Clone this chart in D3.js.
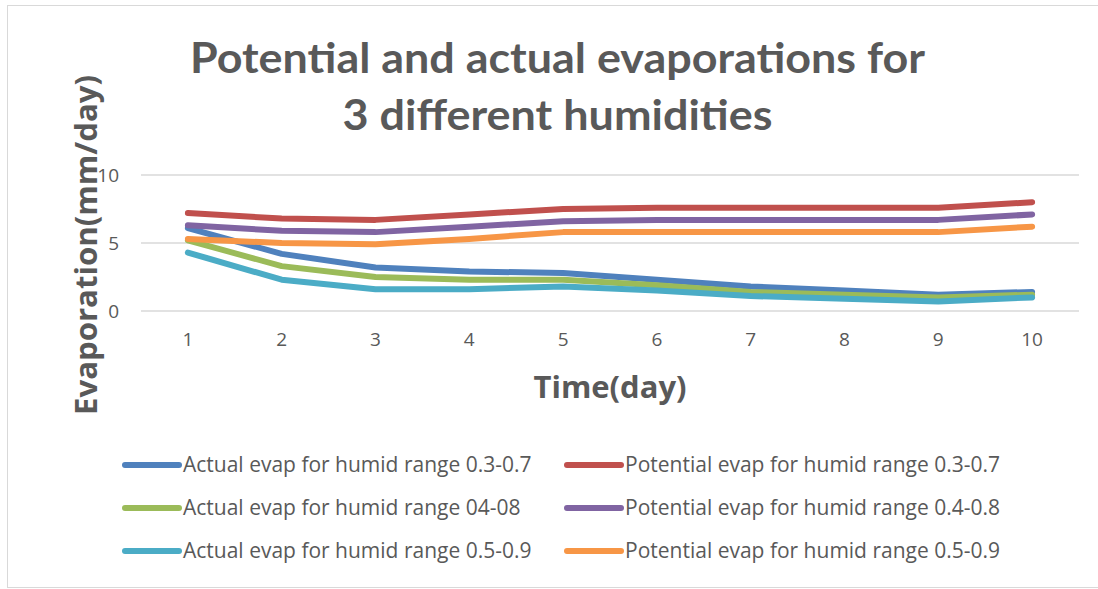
<!DOCTYPE html>
<html>
<head>
<meta charset="utf-8">
<script src="https://cdn.jsdelivr.net/npm/d3@7"></script>
<style>
  html, body { margin: 0; padding: 0; background: #fff; }
  svg { display: block; }
</style>
</head>
<body>
<svg id="chart" width="1098" height="589"></svg>
<script>
// Days on the x axis
const days = [1, 2, 3, 4, 5, 6, 7, 8, 9, 10];
const yTicks = [0, 5, 10];

// Evaporation (mm/day) per series
const actual37    = [6.1, 4.2, 3.2, 2.9, 2.8, 2.3, 1.8, 1.5, 1.2, 1.4];
const potential37 = [7.2, 6.8, 6.7, 7.1, 7.5, 7.6, 7.6, 7.6, 7.6, 8.0];
const actual48    = [5.2, 3.3, 2.5, 2.3, 2.3, 1.9, 1.4, 1.2, 1.0, 1.2];
const potential48 = [6.3, 5.9, 5.8, 6.2, 6.6, 6.7, 6.7, 6.7, 6.7, 7.1];
const actual59    = [4.3, 2.3, 1.6, 1.6, 1.8, 1.5, 1.1, 0.9, 0.7, 1.0];
const potential59 = [5.3, 5.0, 4.9, 5.3, 5.8, 5.8, 5.8, 5.8, 5.8, 6.2];

const seriesNames = [
  "Actual evap for humid range 0.3-0.7",
  "Potential evap for humid range 0.3-0.7",
  "Actual evap for humid range 04-08",
  "Potential evap for humid range 0.4-0.8",
  "Actual evap for humid range 0.5-0.9",
  "Potential evap for humid range 0.5-0.9"
];
const seriesValues = [actual37, potential37, actual48, potential48, actual59, potential59];
const seriesColors = ["#4f81bd", "#c0504d", "#9bbb59", "#8064a2", "#4bacc6", "#f79646"];

const svg = d3.select("#chart");
const textColor = "#595959";
const font = "'Open Sans', 'Liberation Sans', sans-serif";

// Chart frame
svg.append("rect")
  .attr("x", 7.5).attr("y", 5.5)
  .attr("width", 1100).attr("height", 582)
  .attr("fill", "#fff")
  .attr("stroke", "#d9d9d9").attr("stroke-width", 1);

const plot = { left: 141, right: 1079, top: 175, bottom: 311 };

const x = d3.scaleBand()
  .domain(days)
  .range([plot.left, plot.right]);

const y = d3.scaleLinear()
  .domain([0, 10])
  .range([plot.bottom, plot.top]);

// Horizontal gridlines
svg.append("g")
  .selectAll("line")
  .data(yTicks)
  .join("line")
  .attr("x1", plot.left).attr("x2", plot.right)
  .attr("y1", d => y(d)).attr("y2", d => y(d))
  .attr("stroke", "#d9d9d9").attr("stroke-width", 1.5);

// Y axis labels
const yAxis = svg.append("g")
  .attr("transform", `translate(${plot.left - 22},0)`)
  .call(d3.axisLeft(y).tickValues(yTicks).tickSize(0).tickPadding(0));
yAxis.select(".domain").remove();
yAxis.selectAll("text")
  .attr("fill", textColor)
  .style("font-family", font)
  .style("font-size", "19px")
  .attr("dy", "0.35em");

// X axis labels
const xAxis = svg.append("g")
  .attr("transform", `translate(0,${plot.bottom})`)
  .call(d3.axisBottom(x).tickSize(0).tickPadding(22));
xAxis.select(".domain").remove();
xAxis.selectAll("text")
  .attr("fill", textColor)
  .style("font-family", font)
  .style("font-size", "19px");

// Series lines
const line = d3.line()
  .x((d, i) => x(days[i]) + x.bandwidth() / 2)
  .y(d => y(d));

svg.append("g")
  .selectAll("path")
  .data(seriesValues)
  .join("path")
  .attr("d", d => line(d))
  .attr("fill", "none")
  .attr("stroke", (d, i) => seriesColors[i])
  .attr("stroke-width", 6)
  .attr("stroke-linecap", "round")
  .attr("stroke-linejoin", "round");

// Title
const title = svg.append("text")
  .attr("text-anchor", "middle")
  .attr("fill", textColor)
  .style("font-family", "Lato, 'Open Sans', sans-serif")
  .style("font-weight", "bold")
  .style("font-size", "42px");
title.append("tspan").attr("x", 557.5).attr("y", 73)
  .attr("textLength", 735).attr("lengthAdjust", "spacingAndGlyphs")
  .text("Potential and actual evaporations for");
title.append("tspan").attr("x", 557.5).attr("y", 130)
  .attr("textLength", 430).attr("lengthAdjust", "spacingAndGlyphs")
  .text("3 different humidities");

// Axis titles
svg.append("text")
  .attr("transform", "translate(97,245) rotate(-90)")
  .attr("text-anchor", "middle")
  .attr("fill", textColor)
  .style("font-family", font)
  .style("font-weight", "bold")
  .style("font-size", "31px")
  .attr("textLength", 340).attr("lengthAdjust", "spacingAndGlyphs")
  .text("Evaporation(mm/day)");

svg.append("text")
  .attr("x", 610).attr("y", 398)
  .attr("text-anchor", "middle")
  .attr("fill", textColor)
  .style("font-family", font)
  .style("font-weight", "bold")
  .style("font-size", "31px")
  .attr("textLength", 153).attr("lengthAdjust", "spacingAndGlyphs")
  .text("Time(day)");

// Legend: two columns, three rows
const legend = svg.append("g");
const colX = [125, 567];
const rowY = [465, 508, 551];
seriesNames.forEach((name, i) => {
  const cx = colX[i % 2];
  const ry = rowY[Math.floor(i / 2)];
  const g = legend.append("g").attr("transform", `translate(${cx},${ry})`);
  g.append("line")
    .attr("x1", 0).attr("x2", 54)
    .attr("y1", 0).attr("y2", 0)
    .attr("stroke", seriesColors[i])
    .attr("stroke-width", 6)
    .attr("stroke-linecap", "round");
  g.append("text")
    .attr("x", 58).attr("y", 0).attr("dy", "0.35em")
    .attr("fill", textColor)
    .style("font-family", font)
    .style("font-size", "21px")
    .text(name);
});
</script>
</body>
</html>
